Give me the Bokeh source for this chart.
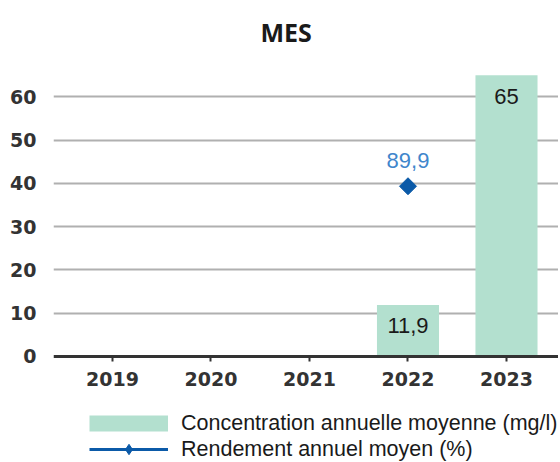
import numpy as np
from bokeh.plotting import figure
from bokeh.models import (Range1d, FixedTicker, ColumnDataSource, Legend, LegendItem)
from bokeh.core.properties import value
from bokeh.embed import file_html
from bokeh.resources import INLINE

# ---- data ----
years = [2019, 2020, 2021, 2022, 2023]
year_labels = ["2019", "2020", "2021", "2022", "2023"]
concentration = [np.nan, np.nan, np.nan, 11.9, 65]      # mg/l
rendement = [np.nan, np.nan, np.nan, 89.9, np.nan]       # %
y_ticks = [0, 10, 20, 30, 40, 50, 60]

BAR_COLOR = "#b3e0cf"
LINE_COLOR = "#0b5aa8"

def fmt(v):
    return "" if np.isnan(v) else f"{v:g}".replace(".", ",")

src = ColumnDataSource(dict(
    x=years,
    conc=concentration,
    rend=rendement,
    conc_lbl=[fmt(v) for v in concentration],
    rend_lbl=[fmt(v) for v in rendement],
))

# frame reaches the bottom of the window so that the legend can sit below the x axis
p = figure(frame_width=505, frame_height=409, min_border_left=53, min_border_right=0,
           min_border_top=53, min_border_bottom=0,
           x_range=Range1d(2018.401, 2023.528), y_range=Range1d(-24.49, 70),
           output_backend="svg", toolbar_location=None, title="MES")
p.extra_y_ranges = {"rend": Range1d(-24.49 * 160 / 70, 160)}
p.outline_line_color = None
p.background_fill_color = "white"

p.title.text_font = "Open Sans"
p.title.text_font_size = "25px"
p.title.text_font_style = "bold"
p.title.text_color = "#1a1a1a"
p.title.align = "left"
p.title.offset = 207
p.title.standoff = 10

# axes
p.yaxis.ticker = FixedTicker(ticks=y_ticks)
p.yaxis.axis_line_color = None
p.yaxis.major_tick_line_color = None
p.yaxis.major_tick_out = 0
p.yaxis.major_tick_in = 0
p.yaxis.minor_tick_line_color = None
p.yaxis.major_label_standoff = 17
p.yaxis.major_label_text_font = "DejaVu Sans"
p.yaxis.major_label_text_font_style = "bold"
p.yaxis.major_label_text_font_size = "19px"
p.yaxis.major_label_text_color = "#333333"

p.xaxis.fixed_location = 0
p.xaxis.ticker = FixedTicker(ticks=years)
p.xaxis.major_label_overrides = {y: l for y, l in zip(years, year_labels)}
p.xaxis.axis_line_color = "#333333"
p.xaxis.axis_line_width = 3
p.xaxis.major_tick_line_color = "#333333"
p.xaxis.major_tick_line_width = 2
p.xaxis.major_tick_in = 0
p.xaxis.major_tick_out = 5
p.xaxis.minor_tick_line_color = None
p.xaxis.major_label_standoff = 11
p.xaxis.major_label_text_font = "DejaVu Sans"
p.xaxis.major_label_text_font_style = "bold"
p.xaxis.major_label_text_font_size = "19px"
p.xaxis.major_label_text_color = "#333333"

p.xgrid.grid_line_color = None
p.ygrid.ticker = FixedTicker(ticks=[t for t in y_ticks if t > 0])
p.ygrid.grid_line_color = "#b0b0b0"
p.ygrid.grid_line_width = 2

p.vbar(x="x", top="conc", width=0.63, source=src, fill_color=BAR_COLOR, line_color=None)
p.text(x="x", y="conc", text="conc_lbl", source=src, text_align="center",
       text_baseline="middle", y_offset=21, text_font=value("Liberation Sans"),
       text_font_size="22px", text_color="#1a1a1a")

# legend swatch for the bars: a thick line renderer (draws nothing: single point)
swatch = p.line(x="x", y="rend", source=src, y_range_name="rend",
                line_color=BAR_COLOR, line_width=16)

line = p.line(x="x", y="rend", source=src, y_range_name="rend", line_color=LINE_COLOR,
              line_width=3)
pts = p.scatter(x="x", y="rend", source=src, y_range_name="rend", marker="square",
                angle=np.pi / 4, size=12, fill_color=LINE_COLOR, line_color=LINE_COLOR)
# diamond used for the legend (hidden under the rotated square in the plot)
dia = p.scatter(x="x", y="rend", source=src, y_range_name="rend", marker="diamond",
                size=14, fill_color=LINE_COLOR, line_color=LINE_COLOR)
p.text(x="x", y="rend", text="rend_lbl", source=src, y_range_name="rend",
       text_align="center", text_baseline="middle", y_offset=-26,
       text_font=value("Liberation Sans"), text_font_size="22px", text_color="#3f86cc")

legend = Legend(items=[
    LegendItem(label="Concentration annuelle moyenne (mg/l)", renderers=[swatch]),
    LegendItem(label="Rendement annuel moyen (%)", renderers=[line, dia]),
], location=(36, 0), orientation="vertical", margin=0, padding=0, spacing=0,
    glyph_width=79, glyph_height=26, label_height=26, label_standoff=13,
    label_text_font="Liberation Sans", label_text_font_size="21.5px",
    label_text_color="#1a1a1a", border_line_color=None, background_fill_alpha=0)
p.add_layout(legend, "center")

open("out.html", "w").write(file_html(p, INLINE))
